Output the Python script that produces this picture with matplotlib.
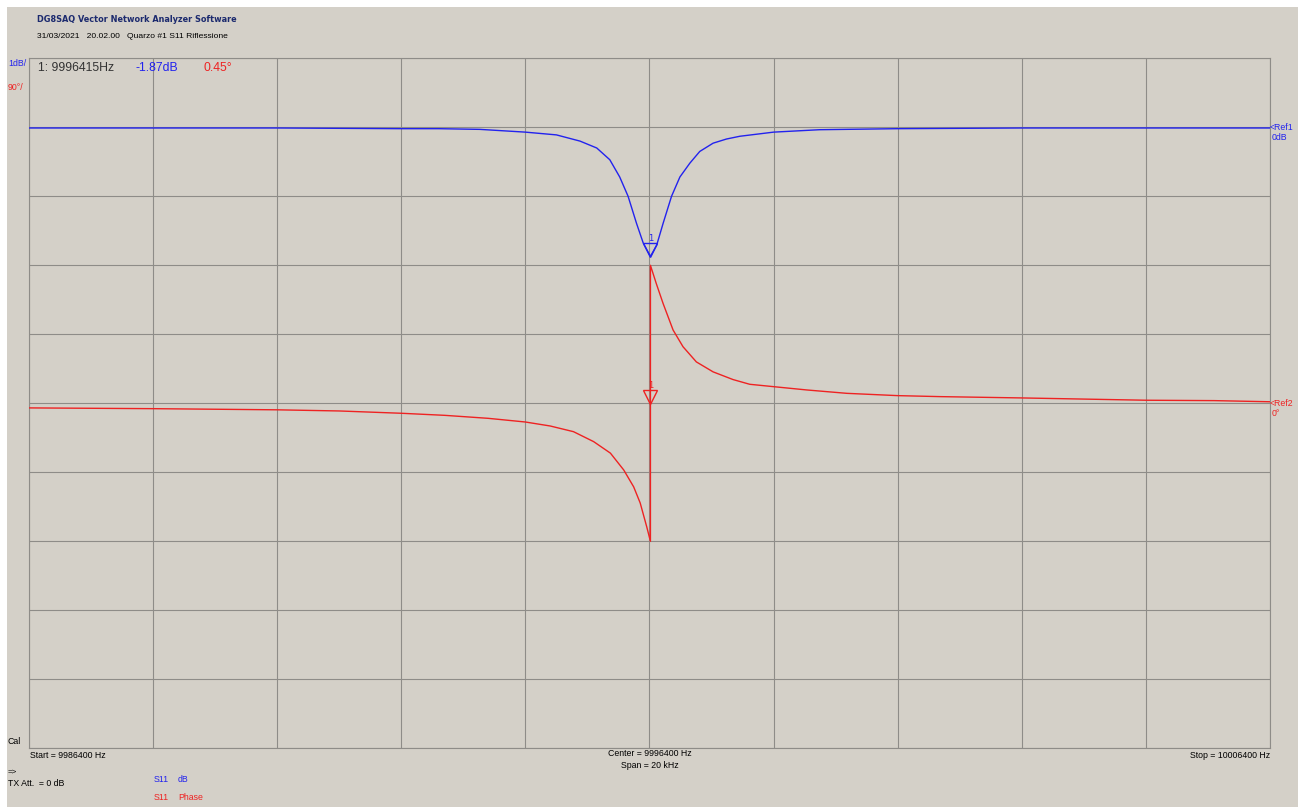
import numpy as np
import matplotlib
matplotlib.use("Agg")
import matplotlib.pyplot as plt
from matplotlib.patches import Rectangle
from matplotlib.transforms import offset_copy

# S11 magnitude (dB)
freq_db = [9986400, 9988400, 9990400, 9992400, 9993000, 9993665, 9994400, 9994900,
           9995280, 9995550, 9995760, 9995920, 9996055, 9996190, 9996300, 9996415,
           9996515, 9996620, 9996755, 9996890, 9997050, 9997210, 9997425, 9997640,
           9997855, 9998400, 9999140, 10000400, 10002400, 10004400, 10006400]
s11_db = [-0.01, -0.01, -0.01, -0.02, -0.02, -0.03, -0.07, -0.11,
          -0.20, -0.30, -0.47, -0.72, -1.00, -1.39, -1.68, -1.87,
          -1.71, -1.39, -1.00, -0.72, -0.52, -0.35, -0.23, -0.17,
          -0.13, -0.07, -0.035, -0.02, -0.01, -0.01, -0.01]

# S11 phase (deg), wraps from -180 to +180 at the marker
freq_ph = [9986400, 9988400, 9990400, 9991400, 9992400, 9993100, 9993800, 9994400,
           9994800, 9995175, 9995500, 9995770, 9995985, 9996145, 9996250, 9996355,
           9996415, 9996415, 9996510, 9996620, 9996780, 9996940, 9997155, 9997425,
           9997745, 9998015, 9998400, 9998935, 9999580, 10000400, 10001090, 10002400,
           10004400, 10005500, 10006400]
s11_ph = [-6.0, -7.0, -8.5, -10.0, -13.0, -15.7, -19.6, -24.4,
          -29.6, -37.0, -50.0, -65.0, -87.0, -109.0, -130.0, -161.0,
          -180.0, 180.0, 156.0, 130.0, 95.6, 73.8, 54.0, 41.0,
          31.0, 24.8, 21.7, 17.4, 13.0, 10.0, 8.7, 7.0,
          4.0, 3.5, 2.0]

marker_freq = 9996415
marker_db = -1.87
marker_ph = 0.45

start_f, stop_f = 9986400, 10006400

W, H = 1298, 807
bg = "#d4d0c8"
grid_c = "#8e8c88"
blue = "#2222ee"
red = "#ee2222"


def fx(px):
    return px / W


def fy(py):
    return 1 - py / H


fig = plt.figure(figsize=(W / 100, H / 100), dpi=100)
fig.patch.set_facecolor("white")
fig.patches.append(Rectangle((fx(7), 0), 1 - fx(7), fy(7), transform=fig.transFigure,
                             facecolor=bg, edgecolor="none", zorder=-10))

left, right, top, bottom = 29, 1270, 58.3, 748.3
ax = fig.add_axes([fx(left), fy(bottom), fx(right - left), (bottom - top) / H])
ax.set_facecolor(bg)
ax.set_xlim(start_f, stop_f)
ax.set_ylim(-9, 1)
ax.set_xticks(np.linspace(start_f, stop_f, 11))
ax.set_yticks(np.arange(-9, 2, 1))
ax.grid(True, color=grid_c, linewidth=0.8)
ax.tick_params(length=0, labelbottom=False, labelleft=False)
for s in ax.spines.values():
    s.set_color(grid_c)
    s.set_linewidth(0.8)
ax.set_axisbelow(True)

ax2 = ax.twinx()
ax2.set_ylim(-450, 450)
ax2.set_yticks([])
for s in ax2.spines.values():
    s.set_visible(False)

ax.plot(freq_db, s11_db, color=blue, lw=1.0, zorder=3)
ax2.plot(freq_ph, s11_ph, color=red, lw=1.0, zorder=3)

# markers (open triangles with tip on the trace)
tb = offset_copy(ax.transData, fig=fig, x=0, y=6, units="dots")
ax.plot([marker_freq], [marker_db], marker="v", ms=10, mfc="none", mec=blue, mew=1,
        transform=tb, zorder=4)
ax.text(marker_freq, marker_db, "1", color=blue, fontsize=6, ha="center", va="bottom",
        transform=offset_copy(ax.transData, fig=fig, x=0, y=13, units="dots"))
tr = offset_copy(ax2.transData, fig=fig, x=0, y=6, units="dots")
ax2.plot([marker_freq], [marker_ph], marker="v", ms=10, mfc="none", mec=red, mew=1,
         transform=tr, zorder=4)
ax2.text(marker_freq, marker_ph, "1", color=red, fontsize=6, ha="center", va="bottom",
         transform=offset_copy(ax2.transData, fig=fig, x=0, y=13, units="dots"))

fn = "Liberation Sans"
sm = 6.3

fig.text(fx(37), fy(20), "DG8SAQ Vector Network Analyzer Software", fontsize=5.9,
         fontweight="bold", color="#1c2a6e", family="DejaVu Sans", va="center")
fig.text(fx(37), fy(36), "31/03/2021   20.02.00   Quarzo #1 S11 Riflessione", fontsize=6.1,
         color="black", family=fn, va="center")
fig.text(fx(8), fy(63), "1dB/", fontsize=sm, color=blue, family=fn, va="center")
fig.text(fx(8), fy(87), "90°/", fontsize=sm, color=red, family=fn, va="center")

fig.text(fx(38), fy(68), "1: 9996415Hz", fontsize=8.8, color="#333333", family=fn, va="center")
fig.text(fx(136), fy(68), "-1.87dB", fontsize=8.8, color=blue, family=fn, va="center")
fig.text(fx(204), fy(68), "0.45°", fontsize=8.8, color=red, family=fn, va="center")

fig.text(fx(1270), fy(128), "<Ref1", fontsize=sm, color=blue, family=fn, va="center")
fig.text(fx(1272), fy(138), "0dB", fontsize=sm, color=blue, family=fn, va="center")
fig.text(fx(1270), fy(404), "<Ref2", fontsize=sm, color=red, family=fn, va="center")
fig.text(fx(1272), fy(414), "0°", fontsize=sm, color=red, family=fn, va="center")

fig.text(fx(8), fy(742), "Cal", fontsize=sm, color="black", family=fn, va="center")
fig.text(fx(30), fy(755), "Start = 9986400 Hz", fontsize=sm, family=fn, va="center")
fig.text(fx(650), fy(753), "Center = 9996400 Hz", fontsize=sm, family=fn, va="center", ha="center")
fig.text(fx(650), fy(765), "Span = 20 kHz", fontsize=sm, family=fn, va="center", ha="center")
fig.text(fx(1270), fy(755), "Stop = 10006400 Hz", fontsize=sm, family=fn, va="center", ha="right")
fig.text(fx(8), fy(772), "=>", fontsize=sm - 0.5, family=fn, va="center")
fig.text(fx(8), fy(783), "TX Att.  = 0 dB", fontsize=sm, family=fn, va="center")
fig.text(fx(154), fy(780), "S11", fontsize=sm, color=blue, family=fn, va="center")
fig.text(fx(178), fy(780), "dB", fontsize=sm, color=blue, family=fn, va="center")
fig.text(fx(154), fy(797), "S11", fontsize=sm, color=red, family=fn, va="center")
fig.text(fx(178), fy(797), "Phase", fontsize=sm, color=red, family=fn, va="center")

fig.savefig("out.png", dpi=100, facecolor=fig.get_facecolor())
